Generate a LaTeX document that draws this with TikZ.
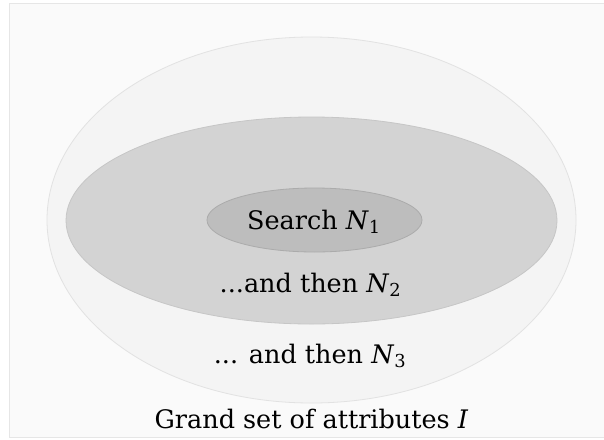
\documentclass[tikz,border=0pt]{standalone}
\usepackage{fontspec}
\setmainfont{DejaVu Serif}
\usetikzlibrary{shapes.geometric}
\definecolor{framefill}{HTML}{FAFAFA}
\definecolor{frameline}{HTML}{E6E6E6}
\definecolor{outerfill}{HTML}{F4F4F4}
\definecolor{outerline}{HTML}{E2E2E2}
\definecolor{midfill}{HTML}{D3D3D3}
\definecolor{midline}{HTML}{C6C6C6}
\definecolor{innerfill}{HTML}{BDBDBD}
\definecolor{innerline}{HTML}{ABABAB}
\newcommand{\Nsub}[1]{\textit{N}\textsubscript{#1}}
\tikzset{
  setell/.style={ellipse, inner sep=0pt, line width=0.8pt},
  lbl/.style={anchor=base, inner sep=0pt, text=black, font=\fontsize{25.5}{30}\selectfont}
}
\begin{document}
\begin{tikzpicture}[x=1pt,y=-1pt]
\useasboundingbox (0,0) rectangle (604,439);
\fill[white] (0,0) rectangle (604,439);
\draw[fill=framefill, draw=frameline, line width=1pt] (9.5,3) rectangle (615,437.5);
\node[setell, fill=outerfill, draw=outerline, minimum width=529pt, minimum height=366pt] (outer) at (311.5,220) {};
\node[setell, fill=midfill, draw=midline, minimum width=491pt, minimum height=207pt] (middle) at (311.5,220.5) {};
\node[setell, fill=innerfill, draw=innerline, minimum width=215pt, minimum height=64pt] (inner) at (314.5,220) {};
\node[lbl] (t1) at (314,229) {Search \Nsub{1}};
\node[lbl] (t2) at (310.5,292) {...and then \Nsub{2}};
\node[lbl] (t3) at (310,363) {... and then \Nsub{3}};
\node[lbl] (t4) at (311.5,428) {Grand set of attributes \textit{I}};
\end{tikzpicture}
\end{document}
